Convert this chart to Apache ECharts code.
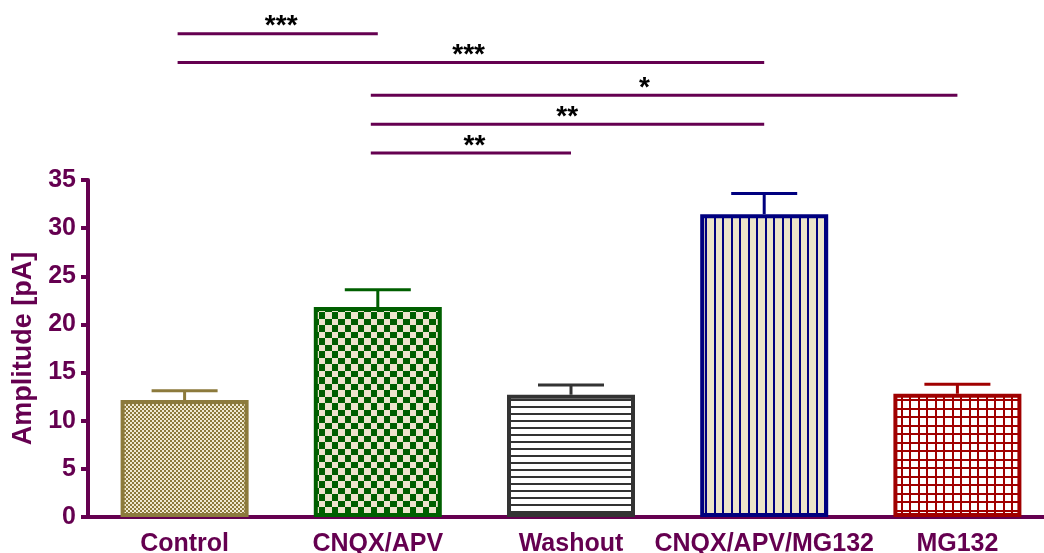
<!DOCTYPE html>
<html>
<head>
<meta charset="utf-8">
<script src="https://cdn.jsdelivr.net/npm/echarts@6/dist/echarts.min.js"></script>
<style>
html, body { margin: 0; padding: 0; background: #fff; }
#main { width: 1044px; height: 553px; }
</style>
</head>
<body>
<div id="main"></div>
<script>
// data
var categories = ['Control', 'CNQX/APV', 'Washout', 'CNQX/APV/MG132', 'MG132'];
var means = [12.15, 21.8, 12.7, 31.45, 12.8];
var errors = [0.95, 1.8, 1.0, 2.15, 1.0];
var yTicks = [0, 35, 5];

// significance brackets: from / to category index, level (pA), stars
var bracketFrom = [0, 0, 1, 1, 1];
var bracketTo = [1, 3, 4, 3, 2];
var bracketLevel = [50.2, 47.2, 43.8, 40.8, 37.8];
var bracketStars = ['***', '***', '*', '**', '**'];
var bracketStarPos = [0.5, 0.49, 0.46, 0.49, 0.5];

var axisColor = '#650050';
var font = '"Liberation Sans", Arial, sans-serif';

function makeTile(w, h, bg, draw) {
    var c = document.createElement('canvas');
    c.width = w; c.height = h;
    var g = c.getContext('2d');
    g.fillStyle = bg;
    g.fillRect(0, 0, w, h);
    draw(g);
    return c;
}

var borderColors = ['#8c7a3c', '#005f00', '#333333', '#00007f', '#a00000'];
var tiles = [
    makeTile(4, 4, '#8c7a3c', function (g) {
        g.fillStyle = '#f0e9d2';
        g.fillRect(0, 0, 2, 2); g.fillRect(2, 2, 2, 2);
    }),
    makeTile(13, 13, '#005f00', function (g) {
        g.fillStyle = '#ede5cc';
        g.fillRect(0, 0, 7, 7); g.fillRect(7, 7, 6, 6);
    }),
    makeTile(8, 7, '#ffffff', function (g) {
        g.fillStyle = '#333333';
        g.fillRect(0, 0, 8, 2);
    }),
    makeTile(17, 4, '#ebe4c9', function (g) {
        g.fillStyle = '#00007f';
        g.fillRect(0, 0, 2, 4); g.fillRect(8, 0, 2, 4);
    }),
    makeTile(17, 17, '#ffffff', function (g) {
        g.fillStyle = '#a00000';
        g.fillRect(0, 0, 2, 17); g.fillRect(8, 0, 2, 17);
        g.fillRect(0, 0, 17, 2); g.fillRect(0, 8, 17, 2);
    })
];

var barData = means.map(function (v, i) {
    return {
        value: v,
        itemStyle: {
            color: { image: tiles[i], repeat: 'repeat' },
            borderColor: borderColors[i],
            borderWidth: 4
        }
    };
});

var myChart = echarts.init(document.getElementById('main'));
var option = {
    animation: false,
    grid: { left: 88, width: 966, top: 180, bottom: 36, containLabel: false, outerBoundsMode: 'none' },
    xAxis: {
        type: 'category',
        data: categories,
        axisLine: { lineStyle: { color: axisColor, width: 4 } },
        axisTick: { alignWithLabel: true, length: 9, lineStyle: { color: axisColor, width: 4 } },
        axisLabel: { color: axisColor, fontSize: 25, fontWeight: 'bold', fontFamily: font, margin: 15, interval: 0 }
    },
    yAxis: {
        type: 'value',
        min: yTicks[0], max: yTicks[1], interval: yTicks[2],
        name: 'Amplitude [pA]',
        nameLocation: 'middle',
        nameGap: 51,
        nameTextStyle: { color: axisColor, fontSize: 27, fontWeight: 'bold', fontFamily: font },
        axisLine: { show: true, lineStyle: { color: axisColor, width: 4 } },
        axisTick: { show: true, length: 7, lineStyle: { color: axisColor, width: 4 } },
        axisLabel: { color: axisColor, fontSize: 25, fontWeight: 'bold', fontFamily: font, margin: 12 },
        splitLine: { show: false }
    },
    series: [
        {
            type: 'bar',
            barWidth: 128,
            data: barData,
            z: 2
        },
        {
            type: 'custom',
            z: 3,
            data: means.map(function (v, i) { return [i, v, v + errors[i]]; }),
            encode: { x: 0, y: [1, 2] },
            renderItem: function (params, api) {
                var i = api.value(0);
                var p0 = api.coord([i, api.value(1)]);
                var p1 = api.coord([i, api.value(2)]);
                var st = { stroke: borderColors[params.dataIndex], lineWidth: 3 };
                return {
                    type: 'group',
                    children: [
                        { type: 'line', shape: { x1: p0[0], y1: p0[1], x2: p1[0], y2: p1[1] }, style: st },
                        { type: 'line', shape: { x1: p1[0] - 33, y1: p1[1], x2: p1[0] + 33, y2: p1[1] }, style: st }
                    ]
                };
            }
        },
        {
            type: 'custom',
            z: 4,
            clip: false,
            data: bracketLevel.map(function (lv, i) { return [bracketFrom[i], bracketTo[i], lv]; }),
            encode: { x: [0, 1], y: 2 },
            renderItem: function (params, api) {
                var k = params.dataIndex;
                var a = api.coord([bracketFrom[k], bracketLevel[k]]);
                var b = api.coord([bracketTo[k], bracketLevel[k]]);
                var tx = a[0] + (b[0] - a[0]) * bracketStarPos[k];
                return {
                    type: 'group',
                    children: [
                        { type: 'line', shape: { x1: a[0] - 7, y1: a[1], x2: b[0], y2: b[1] },
                          style: { stroke: axisColor, lineWidth: 3 } },
                        { type: 'text', x: tx, y: a[1] - 7,
                          style: { text: bracketStars[k], fill: '#000', font: 'bold 28px ' + font,
                                   align: 'center', verticalAlign: 'middle' } }
                    ]
                };
            }
        }
    ]
};
myChart.setOption(option);
</script>
</body>
</html>
